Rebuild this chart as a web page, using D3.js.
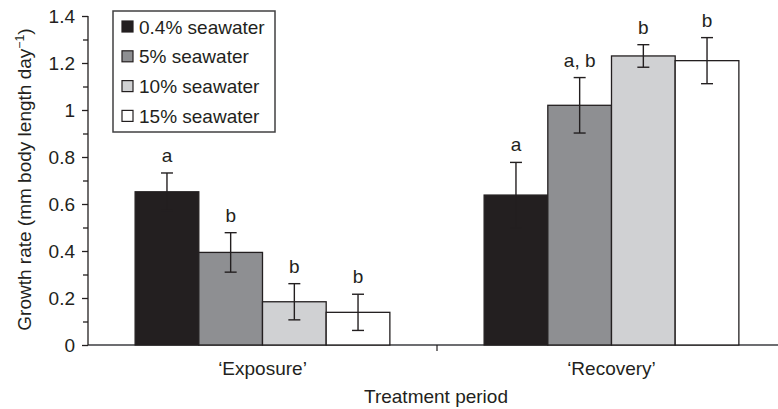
<!DOCTYPE html>
<html><head><meta charset="utf-8">
<script src="https://cdn.jsdelivr.net/npm/d3@7"></script>
<style>
html,body{margin:0;padding:0;background:#fff;}
svg{display:block;font-family:"Liberation Sans",Arial,Helvetica,sans-serif;}
</style></head>
<body>
<svg id="chart" width="778" height="409"></svg>
<script>
const periods = ["\u2018Exposure\u2019", "\u2018Recovery\u2019"];
const seriesNames = ["0.4% seawater", "5% seawater", "10% seawater", "15% seawater"];
const exposureValues = [0.652, 0.394, 0.184, 0.139];
const exposureErrors = [0.080, 0.084, 0.077, 0.077];
const recoveryValues = [0.638, 1.020, 1.230, 1.210];
const recoveryErrors = [0.139, 0.118, 0.048, 0.098];
const exposureLetters = ["a", "b", "b", "b"];
const recoveryLetters = ["a", "a, b", "b", "b"];
const yTicks = [0, 0.2, 0.4, 0.6, 0.8, 1, 1.2, 1.4];
const yMinorTicks = [0.1, 0.3, 0.5, 0.7, 0.9, 1.1, 1.3];
const fills = ["#231f20", "#8e8f92", "#d0d1d3", "#ffffff"];

(function () {
const data = [];
periods.forEach((p, pi) => {
  const vals = pi === 0 ? exposureValues : recoveryValues;
  const errs = pi === 0 ? exposureErrors : recoveryErrors;
  const lets = pi === 0 ? exposureLetters : recoveryLetters;
  seriesNames.forEach((s, si) => data.push({period: p, series: s, si, value: vals[si], err: errs[si], letter: lets[si]}));
});

const svg = d3.select("#chart");
const mLeft = 88, mRight = 786, mTop = 16, mBottom = 345;
const fs = 19;
const dark = "#231f20";

const x0 = d3.scaleBand().domain(periods).range([mLeft, mRight]).paddingInner(0).paddingOuter(0);
const x1 = d3.scaleBand().domain(seriesNames).range([0, x0.bandwidth()]).paddingInner(0).paddingOuter(0.74);
const y = d3.scaleLinear().domain([0, 1.4]).range([mBottom, mTop]);

svg.append("line").attr("x1", mLeft).attr("x2", mRight).attr("y1", mBottom).attr("y2", mBottom)
  .attr("stroke", "#6d6e71").attr("stroke-width", 2);
svg.append("line").attr("x1", mLeft + x0.step()).attr("x2", mLeft + x0.step())
  .attr("y1", mBottom).attr("y2", mBottom + 6)
  .attr("stroke", dark).attr("stroke-width", 1.2);

const g = svg.append("g");
g.selectAll("rect.bar").data(data).join("rect").attr("class", "bar")
  .attr("x", d => x0(d.period) + x1(d.series))
  .attr("y", d => y(d.value))
  .attr("width", x1.bandwidth())
  .attr("height", d => y(0) - y(d.value))
  .attr("fill", d => fills[d.si])
  .attr("stroke", dark).attr("stroke-width", 1.3);

const cap = 6;
const eb = g.selectAll("g.err").data(data).join("g").attr("class", "err")
  .attr("transform", d => `translate(${x0(d.period) + x1(d.series) + x1.bandwidth() / 2},0)`);
eb.append("line").attr("x1", 0).attr("x2", 0)
  .attr("y1", d => y(d.value + d.err)).attr("y2", d => y(d.value - d.err))
  .attr("stroke", dark).attr("stroke-width", 1.4);
eb.append("line").attr("x1", -cap).attr("x2", cap)
  .attr("y1", d => y(d.value + d.err)).attr("y2", d => y(d.value + d.err))
  .attr("stroke", dark).attr("stroke-width", 1.4);
eb.append("line").attr("x1", -cap).attr("x2", cap)
  .attr("y1", d => y(d.value - d.err)).attr("y2", d => y(d.value - d.err))
  .attr("stroke", dark).attr("stroke-width", 1.4);
eb.append("text").attr("x", 0).attr("y", d => y(d.value + d.err) - 11)
  .attr("text-anchor", "middle").attr("font-size", fs).attr("fill", dark)
  .text(d => d.letter);

const yAxis = d3.axisLeft(y).tickValues(yTicks).tickSize(6).tickPadding(7)
  .tickFormat(d => d3.format("~g")(d));
const ya = svg.append("g").attr("transform", `translate(${mLeft},0)`).call(yAxis);
ya.select(".domain").attr("stroke", dark).attr("stroke-width", 1.3).attr("d", `M0,${mTop}V${mBottom}`);
ya.selectAll(".tick line").attr("stroke", dark).attr("stroke-width", 1.3);
ya.selectAll(".tick text").attr("font-size", fs).attr("fill", dark)
  .attr("font-family", "Liberation Sans, Arial, sans-serif");
const yMinor = d3.axisLeft(y).tickValues(yMinorTicks).tickSize(5).tickFormat("");
const ym = svg.append("g").attr("transform", `translate(${mLeft},0)`).call(yMinor);
ym.select(".domain").remove();
ym.selectAll(".tick line").attr("stroke", dark).attr("stroke-width", 1.3);

svg.selectAll("text.cat").data(periods).join("text").attr("class", "cat")
  .attr("x", d => x0(d) + x0.bandwidth() / 2).attr("y", 375)
  .attr("text-anchor", "middle").attr("font-size", fs).attr("fill", dark)
  .text(d => d);

svg.append("text").attr("x", 436).attr("y", 403).attr("text-anchor", "middle")
  .attr("font-size", fs).attr("fill", dark).text("Treatment period");
const yl = svg.append("text").attr("transform", `translate(31,${(mTop + mBottom) / 2 - 1}) rotate(-90)`)
  .attr("text-anchor", "middle").attr("font-size", fs).attr("fill", dark);
yl.append("tspan").text("Growth rate (mm body length day");
yl.append("tspan").attr("font-size", fs * 0.65).attr("dy", -7).text("\u22121");
yl.append("tspan").attr("dy", 7).text(")");

const lg = svg.append("g");
lg.append("rect").attr("x", 113).attr("y", 11).attr("width", 162).attr("height", 121)
  .attr("fill", "#fff").attr("stroke", "#414042").attr("stroke-width", 1.5);
const items = lg.selectAll("g.item").data(seriesNames).join("g").attr("class", "item")
  .attr("transform", (d, i) => `translate(122,${21 + i * 29.8})`);
items.append("rect").attr("width", 11).attr("height", 11)
  .attr("fill", (d, i) => fills[i]).attr("stroke", dark).attr("stroke-width", 1.2);
items.append("text").attr("x", 17).attr("y", 12.5).attr("font-size", fs).attr("fill", dark)
  .text(d => d);
})();
</script>
</body></html>
